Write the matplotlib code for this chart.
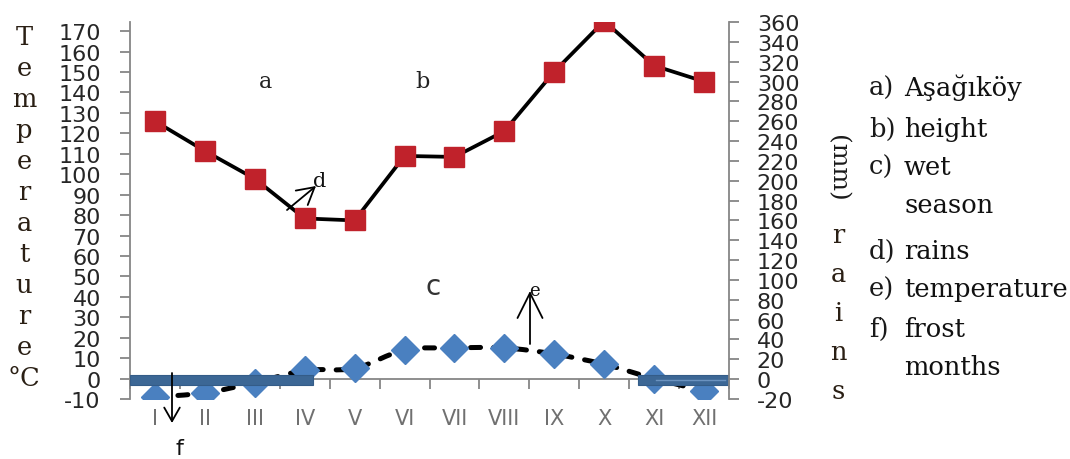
import matplotlib
matplotlib.use('Agg')
import matplotlib.pyplot as plt
from matplotlib.path import Path
from matplotlib.patches import PathPatch, Rectangle
import numpy as np

plt.rcParams['axes.unicode_minus'] = False

# ---------------- data ----------------
months = ['I', 'II', 'III', 'IV', 'V', 'VI', 'VII', 'VIII', 'IX', 'X', 'XI', 'XII']
temperature_c = [-9, -7, -2, 4, 5, 14, 15, 15, 12, 7, 0, -6]
rain_mm = [260, 230, 202, 162, 160, 225, 224, 250, 310, 361, 316, 300]
frost_spans = [(-0.5, 3.17), (9.68, 11.5)]   # frost months, in month-index units
temp_ticks = list(range(-10, 171, 10))
rain_ticks = list(range(-20, 361, 20))
legend_keys = ['a)', 'b)', 'c)', '', 'd)', 'e)', 'f)', '']
legend_texts = ['Aşağıköy', 'height', 'wet', 'season', 'rains', 'temperature', 'frost', 'months']
left_title = ['T', 'e', 'm', 'p', 'e', 'r', 'a', 't', 'u', 'r', 'e', '°C']
right_title = ['r', 'a', 'i', 'n', 's']

# ---------------- layout ----------------
W, H = 1070, 460
fig = plt.figure(figsize=(W / 100, H / 100), dpi=100)
ax = fig.add_axes([130 / W, 60 / H, 599 / W, 377 / H])
ax2 = ax.twinx()
ax.patch.set_visible(False)
ax2.patch.set_visible(False)

x = np.arange(len(months))
ax.set_xlim(-0.5, len(months) - 0.5)
ax.set_ylim(-10, 174.5)
ax2.set_ylim(-20, 360)

gray = '#868686'
for a in (ax, ax2):
    a.spines['top'].set_visible(False)
ax.spines['right'].set_visible(False)
ax2.spines['left'].set_visible(False)
ax2.spines['bottom'].set_visible(False)
ax.spines['bottom'].set_position(('data', 0))
for sp in (ax.spines['left'], ax.spines['bottom'], ax2.spines['right']):
    sp.set_color(gray)
    sp.set_linewidth(1.3)

tick_font = 16
ax.set_yticks(temp_ticks)
ax.set_yticklabels([str(t) for t in temp_ticks])
ax.tick_params(axis='y', direction='out', length=7, width=1.3, color=gray,
               pad=14, labelsize=tick_font, labelcolor='#262626')
ax2.set_yticks(rain_ticks)
ax2.set_yticklabels([str(t) for t in rain_ticks])
ax2.tick_params(axis='y', direction='out', length=7, width=1.3, color=gray,
                pad=13, labelsize=tick_font, labelcolor='#262626')

ax.set_xticks(np.arange(-0.5, len(months), 1.0))
ax.set_xticklabels([])
ax.set_xticks(x, months, minor=True)
ax.tick_params(axis='x', which='major', direction='out', length=7, width=1.3, color=gray)
ax.tick_params(axis='x', which='minor', length=0, pad=21, labelsize=15, labelcolor='#707070')


# ---------------- temperature (smoothed dashed line + diamonds) ----------------
def smooth_path(xs, ys):
    pts = np.column_stack([xs, ys]).astype(float)
    n = len(pts)
    verts = [pts[0]]
    codes = [Path.MOVETO]
    for i in range(n - 1):
        p0 = pts[i - 1] if i > 0 else pts[i]
        p1 = pts[i]
        p2 = pts[i + 1]
        p3 = pts[i + 2] if i + 2 < n else pts[i + 1]
        c1 = p1 + (p2 - p0) / 6.0
        c2 = p2 - (p3 - p1) / 6.0
        verts += [c1, c2, p2]
        codes += [Path.CURVE4] * 3
    return Path(verts, codes)


ax.add_patch(PathPatch(smooth_path(x, temperature_c), fill=False, edgecolor='black',
                       lw=3.6, linestyle=(0, (2.0, 2.6)), capstyle='round', zorder=2))
ax.plot(x, temperature_c, ls='none', marker='D', ms=14, color='#4A80C0',
        mec='#4A80C0', zorder=3)

# frost-month bars
for x0, x1 in frost_spans:
    ax.add_patch(Rectangle((x0, -3.2), x1 - x0, 5.0, facecolor='#3C6795',
                           edgecolor='#345C88', lw=0.8, zorder=4))
rx0, rx1 = frost_spans[1]
ax.plot([rx0 + 0.35, rx1 - 0.08], [-0.7, -0.7], color='#6B93C0', lw=1, zorder=5)

# ---------------- rains (right axis) ----------------
ax2.plot(x, rain_mm, color='black', lw=2.7, marker='s', ms=15,
         mfc='#C0222B', mec='#C0222B', zorder=3)


# ---------------- texts ----------------
def fp(px, py):
    return px / W, 1 - py / H


serif = 'DejaVu Serif'
for i, ch in enumerate(left_title):
    fig.text(*fp(24, 45 + 31 * i), ch, ha='center', va='baseline', fontsize=18.5,
             family=serif, color='#2a1f14')
fig.text(*fp(837, 168), '(mm)', rotation=270, ha='center', va='center', fontsize=18,
         family=serif, color='#1a1a1a')
for i, ch in enumerate(right_title):
    fig.text(*fp(838, 243 + 39 * i), ch, ha='center', va='baseline', fontsize=18.5,
             family=serif, color='#2a1f14')

legend_baselines = [96, 137, 175, 213, 259, 297, 337, 375]
for key, txt, yb in zip(legend_keys, legend_texts, legend_baselines):
    if key:
        fig.text(*fp(869, yb), key, ha='left', va='baseline', fontsize=18.5,
                 family=serif, color='#1a1a1a')
    fig.text(*fp(904, yb), txt, ha='left', va='baseline', fontsize=18.5,
             family=serif, color='#111111')

fig.text(*fp(265, 88), 'a', ha='center', va='baseline', fontsize=16, family=serif, color='#222222')
fig.text(*fp(423, 88), 'b', ha='center', va='baseline', fontsize=16, family=serif, color='#222222')
fig.text(*fp(433, 295), 'c', ha='center', va='baseline', fontsize=20, family='DejaVu Sans', color='#333333')
fig.text(*fp(320, 187), 'd', ha='center', va='baseline', fontsize=15, family=serif, color='#111111')
fig.text(*fp(534, 296), 'e', ha='center', va='baseline', fontsize=13, family=serif, color='#111111')
fig.text(*fp(179, 455), 'f', ha='center', va='baseline', fontsize=16, family='DejaVu Sans', color='#111111')


def arrow(tail, head, hl, hw, ms):
    ax.annotate('', xy=(head[0], H - head[1]), xycoords='figure pixels',
                xytext=(tail[0], H - tail[1]), textcoords='figure pixels',
                arrowprops=dict(arrowstyle=f'->,head_length={hl},head_width={hw}',
                                lw=1.3, color='black', shrinkA=0, shrinkB=0,
                                mutation_scale=ms), zorder=6)


arrow((287, 211), (316, 187), 0.8, 0.45, 15)
arrow((530, 345), (530, 292), 0.9, 0.45, 20)
arrow((172, 374), (172, 424), 0.7, 0.4, 14)

fig.savefig('out.png', dpi=100)
